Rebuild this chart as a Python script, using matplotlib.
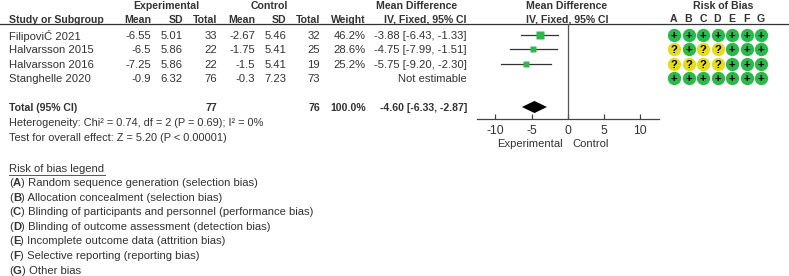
import matplotlib
matplotlib.use("Agg")
import matplotlib.pyplot as plt

plt.rcParams['font.family'] = ['Liberation Sans', 'DejaVu Sans']

W, H = 789, 276
TXT = '#333333'
FS = 7.9
FS_BOLD = 7.6
FS_LEGEND = 8.15

studies = ['FilipoviĆ 2021', 'Halvarsson 2015', 'Halvarsson 2016', 'Stanghelle 2020']
exp_mean = ['-6.55', '-6.5', '-7.25', '-0.9']
exp_sd = ['5.01', '5.86', '5.86', '6.32']
exp_total = ['33', '22', '22', '76']
ctl_mean = ['-2.67', '-1.75', '-1.5', '-0.3']
ctl_sd = ['5.46', '5.41', '5.41', '7.23']
ctl_total = ['32', '25', '19', '73']
weights = ['46.2%', '28.6%', '25.2%', '']
md_text = ['-3.88 [-6.43, -1.33]', '-4.75 [-7.99, -1.51]', '-5.75 [-9.20, -2.30]', 'Not estimable']

# forest values, last study is not estimable
md = [-3.88, -4.75, -5.75]
md_lo = [-6.43, -7.99, -9.20]
md_hi = [-1.33, -1.51, -2.30]
md_weight = [46.2, 28.6, 25.2]
total_md, total_lo, total_hi = -4.60, -6.33, -2.87
forest_ticks = [-10, -5, 0, 5, 10]

bias_cols = ['A', 'B', 'C', 'D', 'E', 'F', 'G']
bias = [
    '+++++++',
    '?+??+++',
    '????+++',
    '+++++++',
]
legend_items = [
    ('(A)', 'Random sequence generation (selection bias)'),
    ('(B)', 'Allocation concealment (selection bias)'),
    ('(C)', 'Blinding of participants and personnel (performance bias)'),
    ('(D)', 'Blinding of outcome assessment (detection bias)'),
    ('(E)', 'Incomplete outcome data (attrition bias)'),
    ('(F)', 'Selective reporting (reporting bias)'),
    ('(G)', 'Other bias'),
]


def px_axes(fig, x0, x1, y0, y1):
    return fig.add_axes([x0 / W, 1 - y1 / H, (x1 - x0) / W, (y1 - y0) / H])


fig = plt.figure(figsize=(W / 100, H / 100), dpi=100)

# page axes in pixel units, holds all the table text
ax = fig.add_axes([0, 0, 1, 1])
ax.set_xlim(0, W)
ax.set_ylim(H, 0)
ax.axis('off')


def txt(x, y, s, ha='left', bold=False, size=None):
    if size is None:
        size = FS_BOLD if bold else FS
    ax.text(x, y + 0.8, s, ha=ha, va='center', fontsize=size, color=TXT,
            fontweight='bold' if bold else 'normal')


# headers
txt(166, 5, 'Experimental', 'center', True)
txt(269, 5, 'Control', 'center', True)
txt(417, 5, 'Mean Difference', 'center', True)
txt(567, 5, 'Mean Difference', 'center', True)
txt(723, 5, 'Risk of Bias', 'center', True)
txt(9, 19, 'Study or Subgroup', bold=True)
for x, s in [(151, 'Mean'), (183, 'SD'), (217, 'Total'), (255, 'Mean'),
             (286, 'SD'), (320, 'Total'), (366, 'Weight'), (467, 'IV, Fixed, 95% CI')]:
    txt(x, 19, s, 'right', True)
txt(567, 19, 'IV, Fixed, 95% CI', 'center', True)
ax.plot([0, W], [24, 24], color='#333333', lw=0.9)

# study rows
row_y = [35, 49.5, 64, 78]
for i, y in enumerate(row_y):
    txt(9, y, studies[i], size=FS_LEGEND)
    txt(151, y, exp_mean[i], 'right', size=FS_LEGEND)
    txt(183, y, exp_sd[i], 'right', size=FS_LEGEND)
    txt(217, y, exp_total[i], 'right', size=FS_LEGEND)
    txt(255, y, ctl_mean[i], 'right', size=FS_LEGEND)
    txt(286, y, ctl_sd[i], 'right', size=FS_LEGEND)
    txt(320, y, ctl_total[i], 'right', size=FS_LEGEND)
    txt(366, y, weights[i], 'right', size=FS_LEGEND)
    txt(467, y, md_text[i], 'right', size=FS_LEGEND)

# total row
txt(9, 107, 'Total (95% CI)', bold=True)
txt(217, 107, '77', 'right', True)
txt(320, 107, '76', 'right', True)
txt(366, 107, '100.0%', 'right', True)
txt(467, 107, '-4.60 [-6.33, -2.87]', 'right', True)
txt(9, 122, 'Heterogeneity: Chi² = 0.74, df = 2 (P = 0.69); I² = 0%')
txt(9, 137, 'Test for overall effect: Z = 5.20 (P < 0.00001)')

# risk of bias legend
txt(9, 168, 'Risk of bias legend', size=FS_LEGEND)
ax.plot([9, 105], [174.5, 174.5], color='#555555', lw=0.7)
for i, (key, desc) in enumerate(legend_items):
    y = 183.2 + i * 14.55
    t = ax.text(9, y, '(', ha='left', va='center', fontsize=FS_LEGEND, color=TXT)
    t = ax.annotate(key[1], xy=(1, 0.5), xycoords=t, va='center', fontsize=FS_LEGEND,
                    color=TXT, fontweight='bold')
    t = ax.annotate(')', xy=(1, 0.5), xycoords=t, va='center', fontsize=FS_LEGEND, color=TXT)
    ax.annotate(' ' + desc, xy=(1, 0.5), xycoords=t, va='center', fontsize=FS_LEGEND, color=TXT)

# forest plot, row n sits 14.4 px under row n-1
fa = px_axes(fig, 477, 659, 24, 119)
fa.set_xlim(-12.55, 12.63)
fa.set_ylim((119 - 35) / 14.4, (24 - 35) / 14.4)
fa.patch.set_alpha(0)
for s in ['top', 'left', 'right']:
    fa.spines[s].set_visible(False)
fa.spines['bottom'].set_color('#444444')
fa.spines['bottom'].set_linewidth(0.9)
fa.axvline(0, color='#555555', lw=0.9)
for i in range(len(md)):
    fa.plot([md_lo[i], md_hi[i]], [i, i], color='#333333', lw=0.9)
    fa.plot(md[i], i, 's', color='#2DB84B', mec='none', ms=md_weight[i] ** 0.5 * 0.87)
fa.fill([total_lo, total_md, total_hi, total_md], [5, 4.58, 5, 5.42], color='black', lw=0)
fa.set_yticks([])
fa.set_xticks(forest_ticks)
fa.set_xticklabels([str(t) for t in forest_ticks], fontsize=8.7, color=TXT)
fa.tick_params(axis='x', direction='in', length=3.5, width=0.9, color='#444444', pad=4)

txt(530, 143, 'Experimental', 'center', size=FS_LEGEND)
txt(591, 143, 'Control', 'center', size=FS_LEGEND)

# risk of bias dots
ba = px_axes(fig, 659.5, 775.5, 24, 119)
ba.set_xlim(-1, 7)
ba.set_ylim((119 - 35) / 14.4, (24 - 35) / 14.4)
ba.axis('off')
for j, c in enumerate(bias_cols):
    ba.text(j, -1.08, c, ha='center', va='center', fontsize=FS_BOLD, color=TXT,
            fontweight='bold', clip_on=False)
for i, row in enumerate(bias):
    for j, mark in enumerate(row):
        col = '#2DB84B' if mark == '+' else '#E6DC1E'
        ba.scatter(j, i, s=92, color=col, lw=0)
        ba.text(j, i, mark, ha='center', va='center_baseline', fontsize=8,
                fontweight='bold', color='black')

fig.savefig('out.png', dpi=100)
